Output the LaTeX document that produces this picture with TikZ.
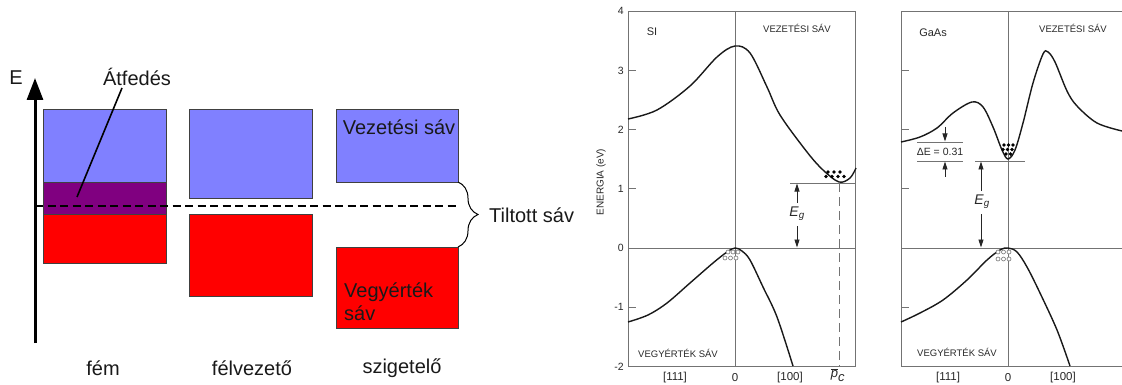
\documentclass[tikz,border=0pt]{standalone}
\usepackage{fontspec}
\setmainfont{Liberation Sans}
\usetikzlibrary{arrows.meta,decorations.pathreplacing}
\definecolor{cband}{RGB}{128,128,255}
\definecolor{vband}{RGB}{255,0,0}
\definecolor{oband}{RGB}{128,0,128}
\definecolor{axg}{RGB}{115,115,115}
\definecolor{txg}{RGB}{40,40,40}
\tikzset{
  band/.style={draw=black!75, line width=0.9pt, inner sep=0pt, outer sep=0pt, anchor=north west},
  bigtxt/.style={font=\fontsize{20}{23}\selectfont, inner sep=0pt, text=black!90},
  axl/.style={draw=axg, line width=0.8pt},
  curve/.style={draw=black!90, line width=1.4pt, smooth, tension=0.55},
  smtxt/.style={font=\fontsize{9.5}{11}\selectfont, inner sep=0pt, text=txg},
  ticktxt/.style={font=\fontsize{10.5}{12}\selectfont, inner sep=0pt, text=txg, anchor=east},
  egarr/.style={draw=black!85, line width=0.8pt, -{Triangle[width=5pt,length=8pt]}},
  eldot/.style={fill=black, draw=none},
  hole/.style={draw=axg, line width=0.6pt, fill=white}
}
\begin{document}
\begin{tikzpicture}[x=1pt,y=-1pt]
\useasboundingbox (0,0) rectangle (1122,385);

% ---------------- left band diagram ----------------
\node[band, fill=cband, minimum width=123pt, minimum height=73pt] (mb) at (43,109) {};
\node[band, fill=oband, minimum width=123pt, minimum height=32pt] (mo) at (43,182) {};
\node[band, fill=vband, minimum width=123pt, minimum height=49pt] (mr) at (43,214) {};
\node[band, fill=cband, minimum width=123pt, minimum height=89pt] (sb) at (189,109) {};
\node[band, fill=vband, minimum width=123pt, minimum height=82pt] (sr) at (189,214) {};
\node[band, fill=cband, minimum width=122pt, minimum height=73pt] (ib) at (336,109) {};
\node[band, fill=vband, minimum width=122pt, minimum height=81pt] (ir) at (336,247) {};

\coordinate (axb) at (35,343);
\coordinate (axt) at (35,78);
\coordinate (fermiL) at (35,206);
\coordinate (fermiR) at (458,206);
\draw[line width=2.8pt, dash pattern=on 8pt off 4.5pt] (fermiL) -- (fermiR);
\draw[line width=3pt, -{Triangle[width=16pt,length=22pt]}] (axb) -- (axt);
\node[bigtxt] (elab) at (16,78) {E};

\node[bigtxt] (atf) at (137,77) {Átfedés};
\coordinate (atfs) at (122,88);
\coordinate (atfe) at (77,197);
\draw[line width=1.6pt] (atfs) -- (atfe);

\draw[decorate, decoration={brace, amplitude=20pt, aspect=0.5}, line width=1pt]
  (ib.south east) -- (ir.north east);
\node[bigtxt, anchor=west] (tilt) at (489,215) {Tiltott sáv};

\node[bigtxt] (vez) at (399,127) {Vezetési sáv};
\node[bigtxt, anchor=west, align=left] (vegy) at (344,302) {Vegyérték\\sáv};

\node[bigtxt] (fem) at (103,368) {fém};
\node[bigtxt] (felv) at (252,368) {félvezető};
\node[bigtxt] (szig) at (402,368) {szigetelő};

% ---------------- Si plot ----------------
\draw[axl] (628,11) rectangle (855,366);
\draw[axl] (735,11) -- (735,366);
\draw[axl] (628,248) -- (855,248);
\foreach \e/\yy in {4/11.2,3/70.4,2/129.6,1/188.8,0/248,-1/307.2,-2/366.4}{
  \draw[axl] (628,\yy) -- (636,\yy);
  \node[ticktxt] at (624,\yy) {\e};
}
\node[smtxt, rotate=90, font=\fontsize{10}{12}\selectfont] (enl) at (601,182) {ENERGIA (eV)};
\node[smtxt, font=\fontsize{11}{13}\selectfont] (si) at (652,32) {SI};
\node[smtxt] (vsi) at (797,28) {VEZETÉSI SÁV};
\node[smtxt] (vbsi) at (678,353) {VEGYÉRTÉK SÁV};
\node[smtxt, font=\fontsize{11.5}{13}\selectfont] at (675,378) {[111]};
\node[smtxt, font=\fontsize{11.5}{13}\selectfont] at (735,378) {0};
\node[smtxt, font=\fontsize{11.5}{13}\selectfont] at (790,378) {[100]};
\node[smtxt, font=\fontsize{13}{14}\selectfont] (pc) at (838,375) {$\overline{\textit{p}}_{\textit{c}}$};

\draw[curve] plot coordinates {(628,119) (657,110) (690,86) (717,57) (735,46) (750,53) (767,87) (780,115) (807,152) (823,170) (839,182) (850,178) (856,168)};
\draw[curve] plot coordinates {(628,322) (648,315) (667,303) (690,283) (713,263) (727,252) (735,248) (742,251) (750,260) (763,287) (777,317) (793,366)};

\coordinate (egsL) at (790,183);
\coordinate (egsR) at (855,183);
\draw[axl] (egsL) -- (egsR);
\coordinate (pcTop) at (839,183);
\coordinate (pcBot) at (839,366);
\draw[axl, dash pattern=on 9pt off 5pt] (pcTop) -- (pcBot);
\node[font=\fontsize{14}{16}\selectfont, inner sep=1pt, text=txg] (egsi) at (797,214) {\textit{E}\textsubscript{\textit{g}}};
\coordinate (egsiT) at (797,183.5);
\coordinate (egsiB) at (797,247.5);
\draw[egarr] (797,203) -- (egsiT);
\draw[egarr] (797,226) -- (egsiB);

\foreach \x/\y in {828/172,834/172,840/172,826/176.5,832/176.5,838/176.5,844/176.5}
  \fill[eldot] (\x,\y) circle (1.9pt);
\foreach \x/\y in {728/252,733/252,738/252,725/258,730.5/258,736/258}
  \draw[hole] (\x,\y) circle (2pt);

% ---------------- GaAs plot ----------------
\draw[axl] (1122,11) -- (901,11) -- (901,366) -- (1122,366);
\draw[axl] (1008,11) -- (1008,366);
\draw[axl] (901,248) -- (1122,248);
\foreach \yy in {70.4,129.6,188.8,307.2}
  \draw[axl] (901,\yy) -- (909,\yy);
\node[smtxt, font=\fontsize{11}{13}\selectfont] (gaas) at (933,33) {GaAs};
\node[smtxt] (vga) at (1073,28) {VEZETÉSI SÁV};
\node[smtxt] (vbga) at (957,352) {VEGYÉRTÉK SÁV};
\node[smtxt, font=\fontsize{11.5}{13}\selectfont] at (948,378) {[111]};
\node[smtxt, font=\fontsize{11.5}{13}\selectfont] at (1008,378) {0};
\node[smtxt, font=\fontsize{11.5}{13}\selectfont] at (1063,378) {[100]};

\draw[curve] plot coordinates {(901,142) (920,137) (937,128) (953,113) (972,102) (983,107) (993,127) (1002,150) (1008,159) (1015,150) (1023,123) (1033,83) (1043,54) (1048,52) (1055,62) (1067,91) (1077,106) (1097,123) (1122,131)};
\draw[curve] plot coordinates {(901,322) (920,313) (943,300) (967,280) (987,260) (1000,250) (1008,248) (1017,252) (1027,267) (1040,293) (1057,330) (1070,366)};

\coordinate (deU1) at (917,142);
\coordinate (deU2) at (963,142);
\coordinate (deL1) at (917,161);
\coordinate (deL2) at (963,161);
\coordinate (egL1) at (975,161);
\coordinate (egL2) at (1025,161);
\draw[axl] (deU1) -- (deU2);
\draw[axl] (deL1) -- (deL2);
\draw[axl] (egL1) -- (egL2);
\node[smtxt, font=\fontsize{10.5}{12}\selectfont] (de) at (940,151.5) {ΔE = 0.31};
\coordinate (deaT) at (945,141.5);
\coordinate (deaB) at (945,161.5);
\draw[egarr] (945,127) -- (deaT);
\draw[egarr] (945,177) -- (deaB);
\node[font=\fontsize{14}{16}\selectfont, inner sep=1pt, text=txg] (egga) at (982,202) {\textit{E}\textsubscript{\textit{g}}};
\coordinate (eggaT) at (981,161.5);
\coordinate (eggaB) at (981,247.5);
\draw[egarr] (981,191) -- (eggaT);
\draw[egarr] (981,214) -- (eggaB);

\foreach \x/\y in {1004/145,1008.5/145,1013/145,1003/149.5,1007.5/149.5,1012/149.5,1006/154,1010.5/154}
  \fill[eldot] (\x,\y) circle (1.8pt);
\foreach \x/\y in {998/252,1003.5/252,1009/252,998/259,1003.5/259,1009/259}
  \draw[hole] (\x,\y) circle (2pt);
\end{tikzpicture}
\end{document}
